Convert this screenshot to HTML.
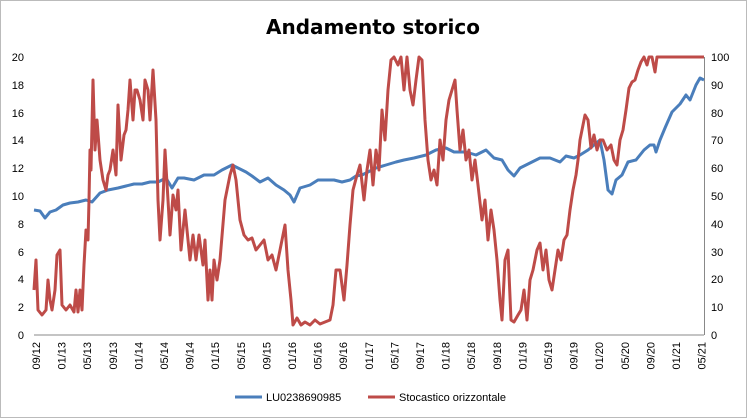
<!DOCTYPE html>
<html><head><meta charset="utf-8"><style>
body{margin:0;background:#fff}
svg{display:block;font-family:"Liberation Sans",sans-serif}
</style></head><body>
<svg width="747" height="418" viewBox="0 0 747 418" xmlns="http://www.w3.org/2000/svg">
<rect x="0.5" y="0.5" width="746" height="417" fill="#fff" stroke="#bbb"/>
<text x="373" y="34" text-anchor="middle" font-size="20" font-weight="bold" font-family="DejaVu Sans, Liberation Sans, sans-serif">Andamento storico</text>
<line x1="34" y1="335" x2="704" y2="335" stroke="#888"/>
<line x1="704.5" y1="57" x2="704.5" y2="335" stroke="#888"/>
<g font-size="11" fill="#000" text-anchor="end">
<text x="24" y="339">0</text><text x="24" y="311">2</text><text x="24" y="283">4</text><text x="24" y="256">6</text><text x="24" y="228">8</text><text x="24" y="200">10</text><text x="24" y="172">12</text><text x="24" y="144">14</text><text x="24" y="117">16</text><text x="24" y="89">18</text><text x="24" y="61">20</text>
</g>
<g font-size="11" fill="#000" text-anchor="start">
<text x="711" y="339">0</text><text x="711" y="311">10</text><text x="711" y="283">20</text><text x="711" y="256">30</text><text x="711" y="228">40</text><text x="711" y="200">50</text><text x="711" y="172">60</text><text x="711" y="144">70</text><text x="711" y="117">80</text><text x="711" y="89">90</text><text x="711" y="61">100</text>
</g>
<g font-size="11" fill="#000" text-anchor="end">
<text transform="translate(40,342) rotate(-90)">09/12</text>
<text transform="translate(65.6,342) rotate(-90)">01/13</text>
<text transform="translate(91.2,342) rotate(-90)">05/13</text>
<text transform="translate(116.8,342) rotate(-90)">09/13</text>
<text transform="translate(142.4,342) rotate(-90)">01/14</text>
<text transform="translate(168,342) rotate(-90)">05/14</text>
<text transform="translate(193.6,342) rotate(-90)">09/14</text>
<text transform="translate(219.2,342) rotate(-90)">01/15</text>
<text transform="translate(244.8,342) rotate(-90)">05/15</text>
<text transform="translate(270.4,342) rotate(-90)">09/15</text>
<text transform="translate(296,342) rotate(-90)">01/16</text>
<text transform="translate(321.6,342) rotate(-90)">05/16</text>
<text transform="translate(347.2,342) rotate(-90)">09/16</text>
<text transform="translate(372.8,342) rotate(-90)">01/17</text>
<text transform="translate(398.4,342) rotate(-90)">05/17</text>
<text transform="translate(424,342) rotate(-90)">09/17</text>
<text transform="translate(449.6,342) rotate(-90)">01/18</text>
<text transform="translate(475.2,342) rotate(-90)">05/18</text>
<text transform="translate(500.8,342) rotate(-90)">09/18</text>
<text transform="translate(526.4,342) rotate(-90)">01/19</text>
<text transform="translate(552,342) rotate(-90)">05/19</text>
<text transform="translate(577.6,342) rotate(-90)">09/19</text>
<text transform="translate(603.2,342) rotate(-90)">01/20</text>
<text transform="translate(628.8,342) rotate(-90)">05/20</text>
<text transform="translate(654.4,342) rotate(-90)">09/20</text>
<text transform="translate(680,342) rotate(-90)">01/21</text>
<text transform="translate(705.6,342) rotate(-90)">05/21</text>
</g>
<polyline fill="none" stroke="#4a7ebb" stroke-width="3" stroke-linejoin="round" points="34,210 40,211 45,218 50,212 56,210 63,205 70,203 78,202 86,200 92,202 100,193 108,190 118,188 126,186 134,184 142,184 150,182 158,182 166,178 172,188 178,178 184,178 194,180 204,175 214,175 222,170 232,165 238,168 246,172 252,176 260,182 268,178 276,185 284,190 290,195 294,202 300,188 310,185 318,180 326,180 334,180 342,182 350,180 356,176 362,175 368,172 376,168 386,165 396,162 404,160 414,158 426,155 436,150 446,148 454,152 466,152 476,155 486,150 494,158 502,160 508,170 514,176 520,168 530,163 540,158 550,158 560,162 566,156 574,158 580,155 588,150 594,145 600,140 604,160 608,190 612,194 616,180 622,175 628,162 636,160 644,150 650,145 654,145 656,152 660,140 665,128 672,112 680,104 686,95 690,100 696,85 700,78 704,80"/>
<polyline fill="none" stroke="#be4b48" stroke-width="3" stroke-linejoin="round" points="34,290 36,260 38,310 42,315 46,310 48,280 50,300 52,310 55,290 57,255 60,250 62,305 66,310 70,305 74,312 76,290 78,312 80,290 82,310 84,265 86,230 88,240 89,200 90,150 91,170 93,80 95,150 97,120 100,160 103,180 106,190 108,175 110,170 113,150 116,175 118,105 121,160 124,135 126,130 128,110 130,80 133,120 135,90 137,90 140,100 143,120 145,80 148,90 150,120 153,70 156,120 158,200 160,240 163,200 165,150 168,200 170,235 173,195 176,210 178,190 181,250 183,230 185,210 188,240 190,260 193,235 196,260 199,235 203,265 205,240 208,300 210,270 212,300 214,260 217,280 220,260 225,200 230,175 233,165 236,180 240,220 244,235 248,240 252,238 256,250 260,245 264,240 268,260 272,255 276,270 280,250 285,225 288,270 291,300 293,325 297,318 301,325 305,322 310,325 315,320 320,324 325,322 330,320 333,305 336,270 340,270 344,300 347,265 350,225 353,190 357,175 360,165 364,200 367,170 370,150 373,185 376,150 379,170 382,110 385,140 388,90 391,60 394,57 398,65 401,57 404,90 407,57 410,90 413,105 416,80 419,57 422,60 425,120 428,160 431,180 434,170 437,185 440,140 443,160 446,120 449,100 452,90 455,80 457,110 460,150 463,130 466,160 469,150 472,180 475,160 478,185 482,220 485,200 488,240 491,210 494,230 497,260 500,300 502,320 505,260 508,250 511,320 514,322 518,315 521,310 524,290 527,320 530,280 533,270 537,250 540,243 543,270 546,250 549,280 552,290 555,270 558,250 561,260 564,240 567,235 570,210 573,190 576,175 578,160 580,140 582,130 585,115 588,120 591,148 594,135 597,150 600,140 603,140 607,150 611,145 614,160 617,165 620,140 623,130 626,110 629,88 632,82 635,80 638,70 641,62 644,57 647,65 649,57 652,57 655,72 657,57 660,57 704,57"/>
<line x1="235" y1="397" x2="262" y2="397" stroke="#4a7ebb" stroke-width="3"/>
<text x="266" y="401" font-size="11">LU0238690985</text>
<line x1="368" y1="397" x2="395" y2="397" stroke="#be4b48" stroke-width="3"/>
<text x="399" y="401" font-size="11">Stocastico orizzontale</text>
</svg>
</body></html>
